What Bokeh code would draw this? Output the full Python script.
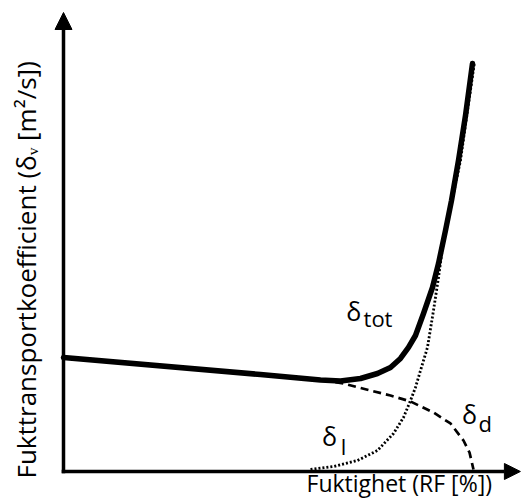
import math
from bokeh.plotting import figure
from bokeh.models import Arrow, NormalHead, Label, Range1d
from bokeh.embed import file_html
from bokeh.resources import INLINE

# RF (arbitrary 0-100) and transport coefficients (arbitrary units)
rf_tot = [0.00, 43.20, 56.36, 60.75, 65.13, 68.86, 71.71, 73.90, 75.66, 77.19, 78.95,
          80.92, 82.24, 83.77, 85.09, 86.62, 88.16, 89.69]
d_tot = [24.84, 21.13, 19.93, 19.72, 20.26, 21.35, 22.66, 24.62, 27.02, 29.63, 34.42,
         40.09, 45.32, 52.51, 59.04, 67.76, 77.56, 88.89]

rf_d = [0.00, 43.20, 56.36, 61.40, 67.32, 71.71, 76.10, 81.14, 84.87, 87.72, 89.04, 89.91]
d_d = [24.84, 21.13, 19.93, 19.17, 17.65, 16.56, 15.25, 12.85, 10.46, 6.75, 4.14, 0.44]

rf_l = [54.17, 59.21, 64.47, 68.86, 72.37, 74.56, 76.10, 77.19, 78.29, 79.82, 81.14,
        82.24, 83.33, 84.87, 87.06, 88.60, 90.13]
d_l = [0.44, 1.09, 2.40, 4.58, 8.28, 11.76, 15.47, 18.30, 22.00, 27.02, 35.08,
       42.27, 50.33, 57.52, 67.76, 78.65, 89.11]

x_label = "Fuktighet (RF [%])"
y_label = "Fukttransportkoefficient (δᵥ [m²/s])"

FONT = "Open Sans"

p = figure(width=521, height=501,
           x_range=Range1d(-13.816, 100.44), y_range=Range1d(-6.536, 102.614),
           x_axis_type=None, y_axis_type=None,
           output_backend="svg", toolbar_location=None,
           min_border=0, outline_line_color=None,
           background_fill_color="white", border_fill_color="white")

# axes as arrows
p.add_layout(Arrow(end=NormalHead(size=17, fill_color="black", line_color="black", line_width=1),
                   x_start=0, y_start=-0.4, x_end=0, y_end=100,
                   line_width=3.5, line_color="black"))
p.add_layout(Arrow(end=NormalHead(size=16, fill_color="black", line_color="black", line_width=1),
                   x_start=-0.4, y_start=0, x_end=100.2, y_end=0,
                   line_width=3.5, line_color="black"))

# curves
p.line(rf_d, d_d, line_width=2.7, line_color="black", line_dash="8 5")
p.line(rf_l, d_l, line_width=2.8, line_color="black", line_dash="2 2")
p.line(rf_tot, d_tot, line_width=5.5, line_color="black", line_join="round", line_cap="round")

def lab(x, y, t, size, **kw):
    p.add_layout(Label(x=x, y=y, text=t, text_font=FONT, text_font_size=f"{size}px",
                       text_color="black", text_baseline="alphabetic", **kw))

# curve labels
lab(62.0, 35.07, "δ", 25)
lab(65.8, 33.55, "tot", 22)
lab(87.4, 12.42, "δ", 25)
lab(91.0, 10.67, "d", 22)
lab(56.7, 7.84, "δ", 25)
lab(60.8, 5.66, "l", 22)

# axis labels
lab(53.3, -2.55, x_label, 23, text_align="left")
lab(-8.33, -1.53, y_label, 26, angle=math.pi / 2, text_align="left")

open("out.html", "w").write(file_html(p, INLINE))
